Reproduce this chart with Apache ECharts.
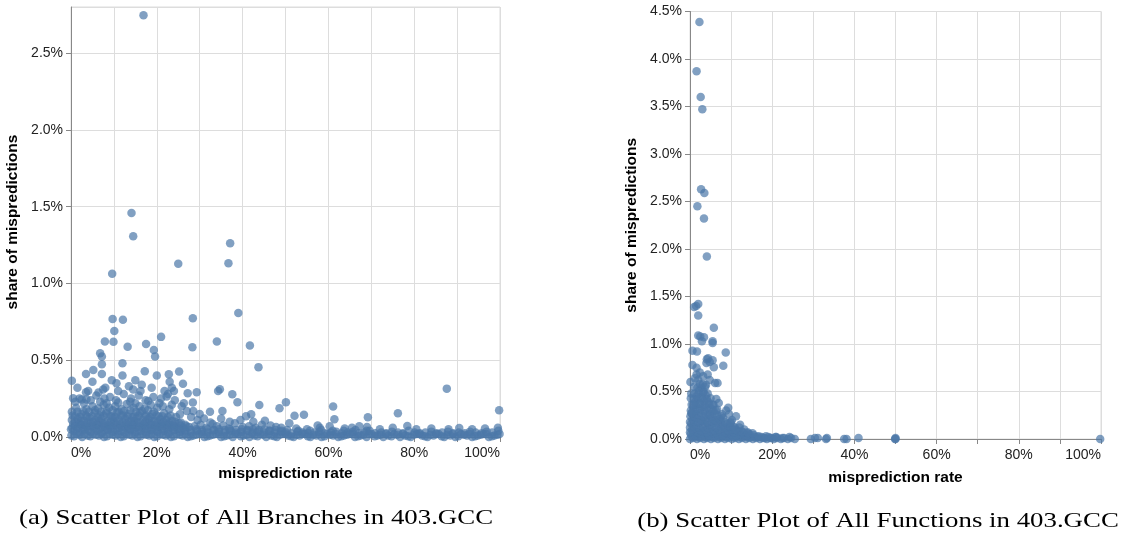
<!DOCTYPE html>
<html>
<head>
<meta charset="utf-8">
<script src="https://cdn.jsdelivr.net/npm/echarts@6/dist/echarts.min.js"></script>
<style>html,body{margin:0;padding:0;background:#fff;}#chart{width:1126px;height:534px;}</style>
</head>
<body>
<div id="chart"></div>
<script>
// ---- data: [misprediction rate %, share of mispredictions %] ----
const branchOutliers = [
  [16.9,2.746],[14.1,1.459],[14.5,1.307],[37.1,1.261],[25.0,1.128],[36.7,1.131],[9.6,1.063],
  [39.0,0.807],[28.4,0.774],[9.7,0.768],[12.1,0.763],[10.1,0.691],[21.0,0.652],[7.9,0.622],
  [9.9,0.620],[34.0,0.622],[17.5,0.605],[28.3,0.585],[41.7,0.596],[13.2,0.587],[19.3,0.566],
  [19.6,0.524],[6.8,0.546],[7.2,0.524],[7.2,0.474],[12.0,0.48],[43.7,0.455],[0.2,0.367],
  [3.5,0.411],[5.2,0.437],[7.2,0.411],[17.2,0.428],[25.2,0.426],[20.0,0.40],[22.8,0.409],
  [12.0,0.40],[26.1,0.346],[87.6,0.315],[99.8,0.174],[61.1,0.198],[61.4,0.115],[50.1,0.226],
  [48.6,0.187],[43.9,0.209],[38.8,0.226],[37.6,0.278],[34.7,0.311],[34.3,0.30],[29.3,0.292],
  [27.2,0.285],[28.4,0.224],[28.5,0.170],[32.4,0.165],[35.3,0.170],[42.0,0.148],[52.1,0.139],
  [54.3,0.145],[69.2,0.128],[76.2,0.155],[78.4,0.072],[90.5,0.059],[45.2,0.106],[50.9,0.089],
  [25.4,0.148],[3.5,0.292],[6.4,0.289],[7.5,0.31],[10.6,0.35],[14.5,0.31],[16.5,0.34],
  [23.5,0.32],[22.3,0.263],[0.2,0.165],[0.5,0.252],[2.5,0.245],[3.6,0.245]
];
const branchBandLow = [
  [0.1,0.01],[1.3,0.02],[2.6,0.00],[3.9,0.01],[5.1,0.02],[6.5,0.01],[7.7,0.00],[9.0,0.02],[10.4,0.01],
  [11.6,0.00],[12.9,0.02],[14.3,0.01],[15.5,0.00],[16.8,0.02],[18.2,0.01],[19.4,0.00],[20.7,0.02],
  [22.1,0.01],[23.3,0.00],[24.6,0.02],[26.0,0.01],[27.2,0.00],[28.5,0.01],[29.9,0.02],[31.1,0.00],
  [32.4,0.01],[33.8,0.02],[35.0,0.00],[36.3,0.01],[37.7,0.00],[38.9,0.02],[40.2,0.01],[41.6,0.00],
  [42.8,0.01],[44.1,0.02],[45.5,0.00],[46.7,0.01],[48.0,0.00],[49.4,0.02],[50.6,0.01],[51.9,0.00],
  [53.3,0.01],[54.5,0.02],[55.8,0.00],[57.2,0.01],[58.4,0.00],[59.7,0.02],[61.1,0.01],[62.3,0.00],
  [63.6,0.01],[65.0,0.02],[66.2,0.00],[67.5,0.01],[68.9,0.00],[70.1,0.02],[71.4,0.01],[72.8,0.00],
  [74.0,0.01],[75.3,0.02],[76.7,0.00],[77.9,0.01],[79.2,0.00],[80.6,0.02],[81.8,0.01],[83.1,0.00],
  [84.5,0.01],[85.7,0.02],[87.0,0.00],[88.4,0.01],[89.6,0.00],[90.9,0.02],[92.3,0.01],[93.5,0.00],
  [94.8,0.01],[96.2,0.02],[97.4,0.00],[98.7,0.01],[99.9,0.02]
];
const branchBandMid = [
  [0.7,0.005],[2.0,0.015],[3.2,0.02],[4.5,0.005],[5.8,0.015],[7.1,0.02],[8.4,0.005],[9.7,0.015],
  [11.0,0.02],[12.3,0.005],[13.6,0.015],[14.9,0.02],[16.2,0.005],[17.5,0.015],[18.8,0.02],[20.1,0.005],
  [21.4,0.015],[22.7,0.02],[24.0,0.005],[25.3,0.015],[26.6,0.02],[27.9,0.005],[29.2,0.015],[30.5,0.02],
  [31.8,0.005],[33.1,0.015],[34.4,0.02],[35.7,0.005],[37.0,0.015],[38.3,0.02],[39.6,0.005],[40.9,0.015],
  [42.2,0.02],[43.5,0.005],[44.8,0.015],[46.1,0.02],[47.4,0.005],[48.7,0.015],[50.0,0.02],[51.3,0.005],
  [52.6,0.015],[53.9,0.02],[55.2,0.005],[56.5,0.015],[57.8,0.02],[59.1,0.005],[60.4,0.015],[61.7,0.02],
  [63.0,0.005],[64.3,0.015],[65.6,0.02],[66.9,0.005],[68.2,0.015],[69.5,0.02],[70.8,0.005],[72.1,0.015],
  [73.4,0.02],[74.7,0.005],[76.0,0.015],[77.3,0.02],[78.6,0.005],[79.9,0.015],[81.2,0.02],[82.5,0.005],
  [83.8,0.015],[85.1,0.02],[86.4,0.005],[87.7,0.015],[89.0,0.02],[90.3,0.005],[91.6,0.015],[92.9,0.02],
  [94.2,0.005],[95.5,0.015],[96.8,0.02],[98.1,0.005],[99.4,0.015]
];
const branchBandHigh = [
  [0.6,0.04],[2.0,0.03],[3.3,0.045],[4.7,0.035],[6.0,0.04],[7.2,0.03],[8.6,0.045],[9.9,0.035],
  [11.1,0.04],[12.5,0.03],[13.8,0.045],[15.0,0.035],[16.4,0.04],[17.7,0.03],[18.9,0.045],[20.2,0.035],
  [21.6,0.04],[22.8,0.03],[24.1,0.045],[25.5,0.035],[26.7,0.04],[28.0,0.03],[29.4,0.04],[30.6,0.035],
  [31.9,0.03],[33.3,0.045],[34.5,0.035],[35.8,0.03],[37.2,0.04],[38.4,0.03],[39.7,0.035],[41.1,0.04],
  [42.3,0.03],[43.6,0.035],[45.0,0.03],[46.2,0.04],[47.5,0.03],[48.9,0.035],[50.1,0.03],[51.4,0.025],
  [52.8,0.035],[54.0,0.03],[55.3,0.025],[56.7,0.03],[57.9,0.035],[59.2,0.025],[60.6,0.03],[61.8,0.035],
  [63.1,0.025],[64.5,0.03],[65.7,0.035],[67.0,0.025],[68.4,0.03],[69.6,0.04],[70.9,0.025],[72.3,0.03],
  [73.5,0.025],[74.8,0.035],[76.2,0.03],[77.4,0.025],[78.7,0.04],[80.1,0.03],[81.3,0.025],[82.6,0.03],
  [84.0,0.035],[85.2,0.025],[86.5,0.03],[87.9,0.035],[89.1,0.025],[90.4,0.03],[91.8,0.025],[93.0,0.035],
  [94.3,0.03],[95.7,0.025],[96.9,0.035],[98.2,0.03],[99.6,0.04]
];
const branchBandTop = [
  [0.0,0.05],[1.4,0.055],[2.7,0.05],[4.0,0.045],[5.3,0.055],[6.7,0.05],[8.0,0.045],[9.3,0.055],
  [10.6,0.05],[12.0,0.045],[13.3,0.055],[14.6,0.05],[15.9,0.045],[17.3,0.055],[18.6,0.05],[19.9,0.045],
  [21.2,0.055],[22.6,0.05],[23.9,0.045],[25.2,0.055],[26.5,0.05],[27.9,0.045],[29.2,0.05],[30.5,0.045],
  [31.8,0.05],[33.2,0.045],[34.5,0.05],[35.8,0.045],[37.1,0.05],[38.5,0.045],[39.8,0.05],[41.1,0.045],
  [42.4,0.05],[43.8,0.045],[45.1,0.05],[46.4,0.04],[47.7,0.045],[49.1,0.04],[50.4,0.045],[53.0,0.04],
  [55.7,0.04],[58.3,0.045],[61.0,0.04],[63.6,0.04],[66.3,0.045],[68.9,0.04]
];
const branchBumps = [
  [31.5,0.06],[34.0,0.07],[36.8,0.055],[40.0,0.065],[43.0,0.06],[46.5,0.075],[49.0,0.06],[52.5,0.055],
  [55.0,0.05],[58.0,0.06],[60.3,0.07],[63.8,0.055],[65.5,0.06],[69.0,0.065],[72.0,0.05],[75.0,0.06],
  [80.5,0.05],[84.0,0.055],[88.0,0.05],[93.5,0.05],[96.5,0.055],[99.5,0.06],[57.5,0.075],[67.2,0.07],
  [28.8,0.07],[30.2,0.08],[33.0,0.085],[35.5,0.075],[38.2,0.09],[41.5,0.07],[44.5,0.08],[47.8,0.065],
  [37.0,0.10],[39.5,0.11],[42.5,0.10],[35.0,0.12],[32.5,0.095],[40.8,0.135]
];
const branchCore = [
  [0.3,0.06],[1.7,0.065],[3.0,0.055],[4.4,0.07],[5.8,0.06],[7.1,0.065],[8.5,0.055],[9.8,0.07],[11.2,0.06],
  [12.6,0.065],[13.9,0.055],[15.3,0.07],[16.6,0.06],[18.0,0.065],[19.4,0.055],[20.7,0.07],[22.1,0.06],
  [23.4,0.065],[24.8,0.055],[26.2,0.06],[27.5,0.065],
  [1.0,0.075],[2.3,0.08],[3.7,0.07],[5.1,0.075],[6.4,0.08],[7.8,0.07],[9.2,0.075],[10.5,0.08],[11.9,0.07],
  [13.3,0.075],[14.6,0.08],[16.0,0.07],[17.3,0.075],[18.7,0.08],[20.1,0.07],[21.4,0.075],[22.8,0.08],
  [24.1,0.07],[25.5,0.075],[26.9,0.07],
  [0.5,0.085],[1.9,0.09],[3.3,0.08],[4.6,0.095],[6.0,0.085],[7.4,0.09],[8.8,0.08],[10.1,0.095],[11.5,0.085],
  [12.9,0.09],[14.2,0.08],[15.6,0.095],[17.0,0.085],[18.3,0.09],[19.7,0.08],[21.1,0.09],[22.4,0.085],
  [23.8,0.08],[25.2,0.09],[26.6,0.08],
  [1.1,0.10],[2.4,0.105],[3.8,0.095],[5.2,0.10],[6.5,0.105],[7.9,0.095],[9.3,0.10],[10.6,0.105],[12.0,0.095],
  [13.4,0.10],[14.7,0.105],[16.1,0.095],[17.4,0.10],[18.8,0.105],[20.2,0.095],[21.5,0.10],[22.9,0.095],
  [24.3,0.10],[25.6,0.095],
  [0.2,0.11],[1.6,0.12],[3.0,0.105],[4.3,0.125],[5.7,0.11],[7.1,0.12],[8.5,0.105],[9.8,0.125],[11.2,0.11],
  [12.6,0.12],[14.0,0.105],[15.3,0.125],[16.7,0.11],[18.1,0.12],[19.5,0.105],[20.8,0.115],[22.2,0.11],[23.6,0.105],
  [1.0,0.135],[2.2,0.13],[3.5,0.14],[4.9,0.135],[6.2,0.13],[7.6,0.14],[9.0,0.135],[10.3,0.13],[11.7,0.14],
  [13.1,0.135],[14.4,0.13],[15.8,0.14],[17.2,0.135],[18.5,0.13],[19.9,0.14],[21.3,0.135],[22.6,0.13]
];
const branchFringe = [
  [0.4,0.14],[2.4,0.15],[3.8,0.13],[5.5,0.16],[6.8,0.14],[8.2,0.155],[9.4,0.135],[10.7,0.16],[12.1,0.14],
  [13.4,0.15],[14.8,0.135],[16.1,0.16],[17.5,0.14],[19.0,0.15],[20.4,0.135],[21.7,0.155],[23.2,0.14],[24.5,0.13],
  [1.5,0.165],[2.9,0.17],[4.2,0.165],[5.6,0.175],[7.0,0.165],[8.3,0.17],[9.7,0.175],[11.1,0.165],[12.4,0.17],
  [13.8,0.175],[15.2,0.165],[16.5,0.17],[17.9,0.175],[19.3,0.165],
  [1.2,0.19],[3.6,0.18],[5.0,0.2],[6.3,0.185],[7.6,0.21],[8.9,0.19],[10.3,0.2],[11.8,0.18],[13.0,0.215],
  [14.6,0.19],[16.0,0.2],[17.2,0.185],[18.6,0.21],[20.1,0.19],[21.4,0.2],[22.9,0.18],
  [2.0,0.25],[4.6,0.24],[5.9,0.27],[7.8,0.25],[9.1,0.26],[10.5,0.24],[12.3,0.28],[14.0,0.25],
  [15.8,0.27],[17.4,0.24],[19.2,0.26],[21.0,0.25],[22.6,0.28],[24.2,0.24],
  [1.0,0.23],[3.0,0.22],[6.8,0.23],[8.3,0.22],[11.0,0.225],[13.8,0.23],[15.0,0.22],[18.0,0.235],
  [20.6,0.22],[23.5,0.21],[25.8,0.20],[27.0,0.17],[26.3,0.22],[4.0,0.30],[8.0,0.32],[11.0,0.30],
  [13.5,0.33],[16.2,0.30],[18.8,0.32],[21.8,0.30],[24.0,0.30],[5.0,0.36],[9.5,0.37],[15.0,0.37],
  [23.0,0.36],[1.5,0.32],[28.0,0.13],[29.5,0.11],[31.0,0.12],[30.0,0.15]
];

const funcOutliers = [
  [2.3,4.39],[1.6,3.87],[2.6,3.60],[3.0,3.47],[2.7,2.63],[3.5,2.59],[1.8,2.45],[3.4,2.32],[4.1,1.92],
  [2.0,1.42],[1.0,1.39],[1.5,1.40],[2.0,1.30],[5.8,1.17],[2.0,1.09],[2.5,1.08],[3.4,1.07],[2.9,1.03],
  [5.5,1.03],[5.5,1.01],[0.6,0.93],[1.7,0.92],[8.7,0.91],[4.1,0.84],[4.4,0.85],[5.5,0.83],[4.0,0.80],
  [4.8,0.81],[0.6,0.78],[8.1,0.77],[1.6,0.75],[5.8,0.755],[1.6,0.68],[2.4,0.70],[3.2,0.66],[6.1,0.59],
  [6.7,0.59],[4.8,0.62],[0.2,0.43],[6.4,0.42],[7.0,0.38],[9.3,0.33],[11.2,0.24],[10.2,0.20],[13.2,0.10],
  [11.0,0.10],[8.1,0.22],[9.5,0.26],[12.2,0.15],[10.5,0.13],[14.0,0.07],[8.8,0.30],[0.4,0.27],[0.1,0.60],
  [1.0,0.55],[0.3,0.48],[0.8,0.36],[5.6,0.36],[6.3,0.30],[7.8,0.26],[9.8,0.17],[3.9,0.57],[2.0,0.62],
  [1.2,0.64],[4.3,0.68]
];
const funcBlob = [
  [0.0,0.00],[0.8,0.01],[1.7,0.00],[2.5,0.01],[3.4,0.00],[4.2,0.01],[5.1,0.00],[5.9,0.01],[6.8,0.00],
  [7.6,0.01],[8.5,0.00],[9.3,0.01],[10.2,0.00],[11.0,0.01],[11.9,0.00],[12.7,0.01],[13.6,0.00],[14.4,0.01],
  [15.3,0.00],[16.1,0.01],[17.0,0.00],[17.8,0.01],[18.7,0.00],[19.5,0.01],[20.4,0.00],[21.2,0.01],
  [22.1,0.00],[22.9,0.01],[23.8,0.00],[24.6,0.01],[25.5,0.00],
  [0.4,0.02],[1.2,0.03],[2.1,0.02],[2.9,0.03],[3.8,0.02],[4.6,0.03],[5.5,0.02],[6.3,0.03],[7.2,0.02],
  [8.0,0.03],[8.9,0.02],[9.7,0.03],[10.6,0.02],[11.4,0.03],[12.3,0.02],[13.1,0.03],[14.0,0.02],[14.8,0.02],
  [15.7,0.02],[16.5,0.02],[17.4,0.02],[18.2,0.01],[19.1,0.02],[19.9,0.01],[20.8,0.02],[22.5,0.01],[24.2,0.02],
  [0.2,0.05],[1.3,0.04],[2.4,0.06],[3.5,0.05],[4.6,0.04],[5.7,0.06],[6.8,0.05],[7.9,0.04],[9.0,0.06],
  [10.1,0.05],[11.2,0.04],[12.3,0.05],[13.4,0.04],[14.5,0.05],[15.6,0.04],[16.7,0.03],[13.8,0.04],[18.5,0.03],[21.0,0.02],
  [0.0,0.07],[0.8,0.08],[1.9,0.07],[3.0,0.08],[4.1,0.07],[5.2,0.08],[6.3,0.07],[7.4,0.08],[8.5,0.07],
  [9.6,0.08],[10.7,0.07],[11.8,0.08],[12.9,0.07],[14.1,0.06],[15.2,0.06],
  [0.5,0.10],[1.6,0.11],[2.7,0.09],[3.8,0.10],[4.9,0.11],[6.0,0.09],[7.1,0.10],[8.2,0.11],[9.3,0.09],
  [10.4,0.10],[11.5,0.09],[12.6,0.08],
  [0.0,0.12],[1.0,0.13],[2.1,0.12],[3.2,0.13],[4.3,0.12],[5.4,0.13],[6.5,0.12],[7.6,0.13],[8.7,0.12],
  [9.8,0.13],[10.9,0.12],[12.0,0.12],
  [0.3,0.16],[1.4,0.15],[2.5,0.17],[3.6,0.16],[4.7,0.15],[5.8,0.17],[6.9,0.16],[8.0,0.15],[9.1,0.16],
  [0.0,0.18],[0.9,0.19],[2.0,0.18],[3.1,0.19],[4.2,0.18],[5.3,0.19],[6.4,0.18],[7.5,0.19],[8.6,0.18],[9.9,0.18],
  [0.6,0.21],[1.7,0.22],[2.8,0.20],[3.9,0.21],[5.0,0.22],[6.1,0.20],[7.2,0.21],
  [0.1,0.24],[1.1,0.24],[2.2,0.25],[3.3,0.24],[4.4,0.25],[5.5,0.24],[6.6,0.25],[7.6,0.24],
  [0.4,0.27],[1.5,0.26],[2.6,0.28],[3.7,0.27],[4.8,0.26],[5.9,0.27],
  [0.2,0.30],[1.3,0.30],[2.4,0.31],[3.5,0.30],[4.6,0.31],[5.7,0.30],[6.6,0.31],
  [0.8,0.33],[1.9,0.32],[3.0,0.34],[4.1,0.33],[5.2,0.32],
  [0.4,0.36],[1.4,0.36],[2.5,0.37],[3.6,0.36],[4.7,0.37],[5.7,0.36],
  [1.2,0.39],[2.3,0.38],[3.4,0.40],[4.5,0.39],
  [0.9,0.42],[1.9,0.42],[3.0,0.43],[4.1,0.42],[5.0,0.43],
  [1.6,0.45],[2.7,0.44],[3.8,0.46],
  [1.1,0.48],[2.1,0.48],[3.2,0.49],[4.3,0.48],
  [2.2,0.51],[3.3,0.50],[1.8,0.54],[2.8,0.54],[3.7,0.55],[2.4,0.58],[3.1,0.58]
];
const funcTail = [
  [29.4,0.00],[30.4,0.01],[31.1,0.01],[33.1,0.00],[33.3,0.01],[37.5,0.00],[38.1,0.00],[41.0,0.01],
  [49.9,0.00],[50.0,0.01],[50.0,0.00],[99.8,0.00]
];

const xTicks = [0, 20, 40, 60, 80, 100];
const captionA = '(a) Scatter Plot of All Branches in 403.GCC';
const captionB = '(b) Scatter Plot of All Functions in 403.GCC';
const xTitle = 'misprediction rate';
const yTitle = 'share of mispredictions';

const branchData = [].concat(branchBandLow, branchBandMid, branchBandHigh, branchBandTop, branchBumps,
                             branchCore, branchFringe, branchOutliers);
const funcData = [].concat(funcBlob, funcOutliers, funcTail);

const labelFont = {fontFamily: 'Liberation Sans', fontSize: 14, color: '#222'};
const titleFont = {fontFamily: 'Liberation Sans', fontSize: 15.5, fontWeight: 'bold', color: '#000'};

function xAxisCfg(idx, gap) {
  return {
    type: 'value', gridIndex: idx, min: 0, max: 100, interval: 10,
    name: xTitle, nameLocation: 'middle', nameGap: gap, nameTextStyle: titleFont,
    axisLine: {show: true, onZero: false, lineStyle: {color: '#888', width: 1}},
    axisTick: {show: true, length: 5, lineStyle: {color: '#888'}},
    axisLabel: Object.assign({
      margin: 9,
      alignMinLabel: 'left', alignMaxLabel: 'right',
      formatter: v => (xTicks.indexOf(v) >= 0 ? v + '%' : '')
    }, labelFont),
    splitLine: {show: true, lineStyle: {color: '#ddd', width: 1}}
  };
}
function yAxisCfg(idx, max, gap) {
  return {
    type: 'value', gridIndex: idx, min: 0, max: max, interval: 0.5,
    name: yTitle, nameLocation: 'middle', nameRotate: 90, nameGap: gap, nameTextStyle: titleFont,
    axisLine: {show: true, lineStyle: {color: '#888', width: 1}},
    axisTick: {show: true, length: 5, lineStyle: {color: '#888'}},
    axisLabel: Object.assign({
      margin: 8, showMaxLabel: max % 0.5 === 0,
      formatter: v => v.toFixed(1) + '%'
    }, labelFont),
    splitLine: {show: true, lineStyle: {color: '#ddd', width: 1}}
  };
}

const chart = echarts.init(document.getElementById('chart'), null, {renderer: 'canvas'});
chart.setOption({
  animation: false,
  backgroundColor: '#fff',
  grid: [
    {left: 71, top: 7, width: 429, height: 430, show: true, borderColor: '#ddd', borderWidth: 1, backgroundColor: 'transparent'},
    {left: 690, top: 11.5, width: 411, height: 427.5, show: true, borderColor: '#ddd', borderWidth: 1, backgroundColor: 'transparent'}
  ],
  xAxis: [xAxisCfg(0, 29), xAxisCfg(1, 31)],
  yAxis: [yAxisCfg(0, 2.8, 50), yAxisCfg(1, 4.5, 50)],
  series: [
    {type: 'scatter', xAxisIndex: 0, yAxisIndex: 0, data: branchData, symbolSize: 8.5, clip: false,
     itemStyle: {color: '#4c78a8', opacity: 0.7}},
    {type: 'scatter', xAxisIndex: 1, yAxisIndex: 1, data: funcData, symbolSize: 8.5, clip: false,
     itemStyle: {color: '#4c78a8', opacity: 0.7}}
  ],
  graphic: [
    {type: 'text', x: 256, y: 518, scaleX: 1.22,
     style: {text: captionA, font: '22px "Liberation Serif"', fill: '#000', textAlign: 'center', textVerticalAlign: 'middle'}},
    {type: 'text', x: 878, y: 521, scaleX: 1.22,
     style: {text: captionB, font: '22px "Liberation Serif"', fill: '#000', textAlign: 'center', textVerticalAlign: 'middle'}}
  ]
});
</script>
</body>
</html>
